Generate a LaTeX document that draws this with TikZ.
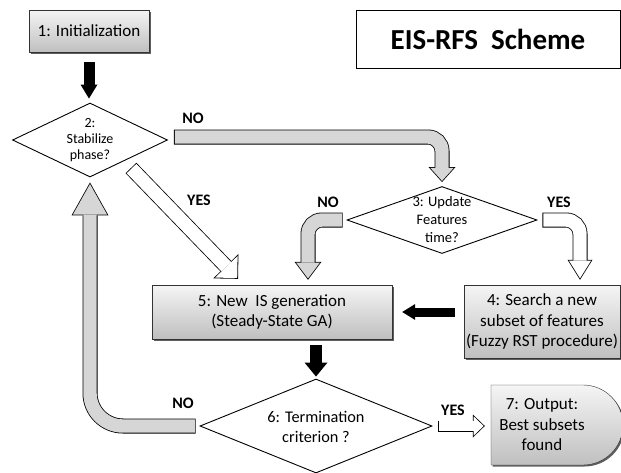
\documentclass[tikz,border=0pt]{standalone}
\usepackage{fontspec}
\setmainfont{Carlito}
\usetikzlibrary{shapes.geometric,shapes.misc,shadows,arrows.meta}

\colorlet{arrowgray}{gray!32}
\tikzset{
	boxtext/.style = {align=center, inner sep=0pt, font=\fontsize{17}{20.5}\selectfont},
	process/.style = {rectangle, draw=black!80, top color=gray!8, bottom color=gray!50,
		drop shadow={shadow xshift=1.5pt, shadow yshift=-1.5pt, fill=black!70, opacity=0.9}, boxtext},
	decision/.style = {diamond, draw=black, fill=white, line width=0.9pt, inner sep=0pt},
	dtext/.style = {align=center, inner sep=0pt},
	answer/.style = {font=\bfseries\fontsize{16}{16}\selectfont, inner sep=0pt},
	blackarrow/.style n args = {3}{draw=black, line width=#1, -{Triangle[width=#2, length=#3, line width=0pt]}},
	fatbody/.style = {draw=black, rounded corners=14pt}
}

% outlined block arrow: [fill]{shaft}{head width}{head length}{path}
\newcommand\fatarrow[5][arrowgray]{%
	\pgfmathsetmacro\fahang{atan((#3/2)/#4)}%
	\pgfmathsetmacro\fatip{0.8/sin(\fahang)}%
	\pgfmathsetmacro\fainl{#4-0.8-\fatip}%
	\pgfmathsetmacro\fainw{2*\fainl*tan(\fahang)}%
	\pgfmathsetmacro\fains{#2-1.6}%
	\tikzset{fainner/.style/.expanded={line width=\fains pt, shorten <=0.8pt, shorten >=\fatip pt,
		-{Triangle[width=\fainw pt, length=\fainl pt, line width=0pt]}}}%
	\draw[fatbody, line width=#2pt, -{Triangle[width=#3pt, length=#4pt, line width=0pt]}] #5;
	\draw[fatbody, fainner, draw=#1] #5;
}

\begin{document}
\begin{tikzpicture}[x=1pt, y=-1pt]
	\useasboundingbox (0,0) rectangle (621,472);
	% boxes
	\node[process, minimum width=120pt, minimum height=42pt] (init) at (89,31) {1: Initialization};
	\node[draw=black, line width=0.9pt, minimum width=264pt, minimum height=58pt, inner sep=0pt,
		font=\bfseries\fontsize{29}{29}\selectfont] (title) at (488,39) {EIS-RFS\hspace{0.45em}Scheme};
	\node[process, minimum width=240pt, minimum height=54pt] (gen) at (272,312) {5: New\ \ IS generation\\(Steady-State GA)};
	\node[process, minimum width=156pt, minimum height=73pt] (srch) at (542,321.5) {4: Search a new\\subset of features\\(Fuzzy RST procedure)};
	\node[process, rounded rectangle, rounded rectangle west arc=none, minimum width=132pt, minimum height=80pt] (out) at (557,425) {};
	\node[boxtext] (outtxt) at ([xshift=-15pt]out.center) {7: Output:\\Best subsets\\found};
	% decisions
	\node[decision, minimum width=155pt, minimum height=74pt] (stab) at (90,140) {};
	\node[dtext, font=\fontsize{14}{16}\selectfont] (stabtxt) at (stab) {2:\\Stabilize\\phase?};
	\node[decision, minimum width=190pt, minimum height=67pt] (upd) at (442,220) {};
	\node[dtext, font=\fontsize{14.5}{18}\selectfont] (updtxt) at (upd) {3: Update\\Features\\time?};
	\node[decision, minimum width=232pt, minimum height=94pt] (term) at (316,426) {};
	\node[dtext, font=\fontsize{16.3}{19.5}\selectfont] (termtxt) at ([yshift=-1pt]term) {6: Termination\\criterion ?};
	% black arrows
	\draw[blackarrow={11pt}{17pt}{14pt}] ([yshift=-10pt]init.south) -- ([yshift=4pt]stab.north -| init.south);
	\draw[blackarrow={9pt}{16pt}{13pt}] ([xshift=-9pt]srch.west |- gen.east) -- ([xshift=10pt]gen.east);
	\draw[blackarrow={12pt}{23pt}{14pt}] ([yshift=-6pt]gen.south -| term.north) -- ([yshift=2pt]term.north);
	% block arrows
	\fatarrow{15}{27}{15}{([xshift=6pt,yshift=3pt]stab.east) -| ([yshift=4pt]upd.north)}
	\fatarrow[white]{15}{35}{17.5}{([xshift=41pt,yshift=-28pt]stab.center) -- ([xshift=-34pt,yshift=6pt]gen.north)}
	\fatarrow{15}{27}{18}{([xshift=-4pt]upd.west) -| ([xshift=36pt,yshift=5pt]gen.north)}
	\fatarrow[white]{15}{25}{20}{([xshift=5pt]upd.east) -| ([xshift=38pt,yshift=5pt]srch.north)}
	\fatarrow[white]{11}{23}{12}{([xshift=6pt]term.east) -- ([xshift=-6pt]out.west |- term.east)}
	\fatarrow{15}{37}{33}{([xshift=-4pt]term.west) [rounded corners=33pt] -| ([yshift=-5pt]stab.south)}
	% answers
	\node[answer] (no1) at (193,118) {NO};
	\node[answer] (yes1) at (199,200) {YES};
	\node[answer] (no2) at (328,202) {NO};
	\node[answer] (yes2) at (559,202) {YES};
	\node[answer] (no3) at (183,403) {NO};
	\node[answer] (yes3) at (453,410) {YES};
\end{tikzpicture}
\end{document}
